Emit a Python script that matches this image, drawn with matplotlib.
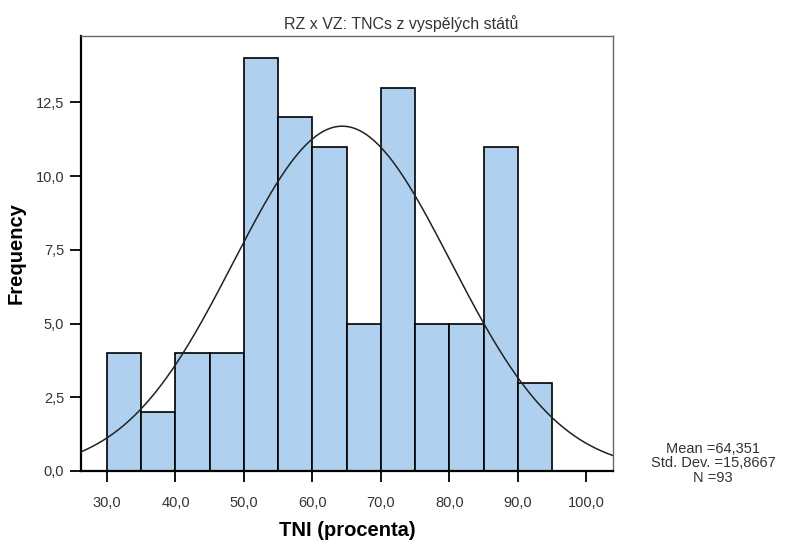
import numpy as np
import matplotlib.pyplot as plt

plt.rcParams['font.family'] = ['Liberation Sans', 'DejaVu Sans']

bin_edges = [30, 35, 40, 45, 50, 55, 60, 65, 70, 75, 80, 85, 90, 95]
counts = [4, 2, 4, 4, 14, 12, 11, 5, 13, 5, 5, 11, 3]
mean = 64.351
std_dev = 15.8667
n = 93
xticks = [30, 40, 50, 60, 70, 80, 90, 100]
yticks = [0, 2.5, 5, 7.5, 10, 12.5]

fig = plt.figure(figsize=(7.87, 5.41), dpi=100)
ax = fig.add_axes([0.1029, 0.1294, 0.676, 0.8041])

edges = np.array(bin_edges, dtype=float)
widths = np.diff(edges)
ax.bar(edges[:-1], counts, width=widths, align='edge', color='#afd0ee',
       edgecolor='black', linewidth=1.2, zorder=2)

xmin, xmax = 26.2, 103.9
xs = np.linspace(xmin, xmax, 400)
bw = widths[0]
ys = n * bw / (std_dev * np.sqrt(2 * np.pi)) * np.exp(-0.5 * ((xs - mean) / std_dev) ** 2)
ax.plot(xs, ys, color='#222222', linewidth=1.1, zorder=3)

ax.set_xlim(xmin, xmax)
ax.set_ylim(0, 14.75)
ax.set_xticks(xticks)
ax.set_xticklabels([f"{t:.1f}".replace('.', ',') for t in xticks], fontsize=10.5, color='#333333')
ax.set_yticks(yticks)
ax.set_yticklabels([f"{t:.1f}".replace('.', ',') for t in yticks], fontsize=10.5, color='#333333')
ax.tick_params(axis='y', direction='out', length=8, width=1.3, pad=4)
ax.tick_params(axis='x', direction='out', length=8, width=1.3, pad=10)

for s in ['left', 'bottom']:
    ax.spines[s].set_linewidth(1.6)
    ax.spines[s].set_color('black')
for s in ['top', 'right']:
    ax.spines[s].set_linewidth(1.0)
    ax.spines[s].set_color('#666666')

fig.text(0.51, 0.956, "RZ x VZ: TNCs z vyspělých států", ha='center', va='center',
         fontsize=11.5, color='#333333')
ax.set_xlabel("TNI (procenta)", fontsize=14.5, fontweight='bold', labelpad=8)
ax.set_ylabel("Frequency", fontsize=14.5, fontweight='bold', labelpad=7)

stats = f"Mean ={mean:.3f}\nStd. Dev. ={std_dev:.4f}\nN ={n}".replace('.', ',').replace('Std, Dev,', 'Std. Dev.')
fig.text(0.906, 0.144, stats, ha='center', va='center', fontsize=10.5,
         color='#333333', linespacing=1.05)

plt.savefig("out.png", dpi=100)
